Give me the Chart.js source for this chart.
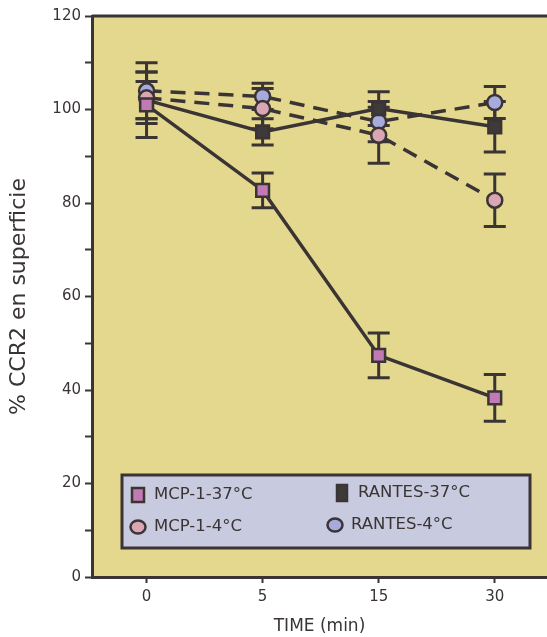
<!DOCTYPE html>
<html>
<head>
<meta charset="utf-8">
<script src="https://cdn.jsdelivr.net/npm/chart.js@4.4.1/dist/chart.umd.min.js"></script>
<style>
  html, body { margin: 0; padding: 0; background: #ffffff; overflow: hidden; }
  #wrap { width: 547px; height: 637px; }
</style>
</head>
<body>
<div id="wrap"><canvas id="ccr2"></canvas></div>
<script>
  // time points (min) and % surface CCR2 with their error bars
  const timeLabels = ['0', '5', '15', '30'];

  const mcp37 = [101, 82.7, 47.4, 38.3];
  const mcp37Err = [7, 3.7, 4.8, 5];
  const mcp4 = [102.5, 100.2, 94.5, 80.6];
  const mcp4Err = [5.5, 4.3, 6, 5.6];
  const rantes37 = [102, 95.2, 100.2, 96.3];
  const rantes37Err = [4, 2.8, 3.6, 5.4];
  const rantes4 = [104, 102.8, 97.4, 101.5];
  const rantes4Err = [6, 2.8, 4.3, 3.4];

  const ink = '#3a3434';
  const plotBg = '#e4d88e';
  const legendBg = '#c8cbdf';
  const tickFont = { family: '"DejaVu Sans", Verdana, sans-serif', size: 15 };

  function toPoints(values) {
    return values.map(function(v, i) { return { x: i, y: v }; });
  }

  function series(label, values, errors, fill, shape, dashed) {
    return {
      label: label,
      data: toPoints(values),
      errors: errors,
      borderColor: ink,
      borderWidth: 3.5,
      borderDash: dashed ? [15, 9] : [],
      pointStyle: shape,
      pointRadius: shape === 'rect' ? 9 : 7.5,
      pointBackgroundColor: fill,
      pointBorderColor: ink,
      pointBorderWidth: 2.5,
      tension: 0,
      fill: false
    };
  }

  // yellow plot panel with a top frame line
  const panel = {
    id: 'panel',
    beforeDraw(chart) {
      let a = chart.chartArea;
      let ctx = chart.ctx;
      ctx.save();
      ctx.fillStyle = plotBg;
      ctx.fillRect(a.left, a.top, a.right - a.left, a.bottom - a.top);
      ctx.strokeStyle = ink;
      ctx.lineWidth = 3;
      ctx.beginPath();
      ctx.moveTo(a.left, a.top);
      ctx.lineTo(a.right, a.top);
      ctx.stroke();
      ctx.restore();
    }
  };

  // vertical error bars with caps, drawn under the lines and markers
  const errorBars = {
    id: 'errorBars',
    beforeDatasetsDraw(chart) {
      let ctx = chart.ctx;
      let xs = chart.scales.x;
      let ys = chart.scales.y;
      ctx.save();
      ctx.strokeStyle = ink;
      ctx.lineWidth = 3;
      chart.data.datasets.forEach(function(ds) {
        ds.data.forEach(function(p, i) {
          let e = ds.errors[i];
          let px = xs.getPixelForValue(p.x);
          let top = ys.getPixelForValue(p.y + e);
          let bot = ys.getPixelForValue(p.y - e);
          ctx.beginPath();
          ctx.moveTo(px, top);
          ctx.lineTo(px, bot);
          ctx.moveTo(px - 11, top);
          ctx.lineTo(px + 11, top);
          ctx.moveTo(px - 11, bot);
          ctx.lineTo(px + 11, bot);
          ctx.stroke();
        });
      });
      ctx.restore();
    }
  };

  // boxed legend sitting inside the plot, two columns
  const boxLegend = {
    id: 'boxLegend',
    afterDraw(chart) {
      let a = chart.chartArea;
      let ctx = chart.ctx;
      let left = a.left + 30;
      let right = a.right - 17;
      let top = a.bottom - 102;
      let bottom = a.bottom - 29;
      ctx.save();
      ctx.fillStyle = legendBg;
      ctx.fillRect(left, top, right - left, bottom - top);
      ctx.strokeStyle = ink;
      ctx.lineWidth = 3;
      ctx.strokeRect(left, top, right - left, bottom - top);

      // order: MCP-1-37, RANTES-37 / MCP-1-4, RANTES-4
      let slots = [
        { ds: 0, x: left + 16, y: top + 20 },
        { ds: 2, x: left + 220, y: top + 18 },
        { ds: 1, x: left + 16, y: top + 52 },
        { ds: 3, x: left + 213, y: top + 50 }
      ];
      ctx.font = '16.5px "DejaVu Sans", sans-serif';
      ctx.textBaseline = 'middle';
      slots.forEach(function(s) {
        let ds = chart.data.datasets[s.ds];
        ctx.fillStyle = ds.pointBackgroundColor;
        ctx.strokeStyle = ink;
        ctx.lineWidth = 2.5;
        if (ds.pointStyle === 'rect') {
          let w = s.ds === 2 ? 10 : 12;
          let h = s.ds === 2 ? 16 : 14;
          ctx.fillRect(s.x - w / 2, s.y - h / 2, w, h);
          ctx.strokeRect(s.x - w / 2, s.y - h / 2, w, h);
        } else {
          ctx.beginPath();
          ctx.ellipse(s.x, s.y, 7.5, 6.5, 0, 0, Math.PI * 2);
          ctx.fill();
          ctx.stroke();
        }
        ctx.fillStyle = ink;
        ctx.fillText(ds.label, s.x + 16, s.y);
      });
      ctx.restore();
    }
  };

  let ctx = document.getElementById('ccr2').getContext('2d');
  let chart = new Chart(ctx, {
    type: 'line',
    data: {
      datasets: [
        series('MCP-1-37°C', mcp37, mcp37Err, '#c27ab4', 'rect', false),
        series('MCP-1-4°C', mcp4, mcp4Err, '#dba6b4', 'circle', true),
        series('RANTES-37°C', rantes37, rantes37Err, '#3e3a3a', 'rect', false),
        series('RANTES-4°C', rantes4, rantes4Err, '#a7aadc', 'circle', true)
      ]
    },
    options: {
      responsive: true,
      maintainAspectRatio: false,
      animation: false,
      layout: {
        autoPadding: false,
        padding: { top: 16, right: 0, bottom: 0, left: 0 }
      },
      plugins: {
        legend: { display: false },
        tooltip: { enabled: false }
      },
      scales: {
        x: {
          type: 'linear',
          min: -0.47,
          max: 3.45,
          afterBuildTicks: function(s) {
            s.ticks = timeLabels.map(function(_, i) { return { value: i }; });
          },
          afterFit: function(s) {
            s.height = 60;
            s.paddingLeft = 0;
            s.paddingRight = 0;
          },
          border: { color: ink, width: 3 },
          grid: { drawOnChartArea: false, tickLength: 6, tickWidth: 2, tickColor: ink },
          ticks: {
            color: ink,
            font: tickFont,
            padding: 5,
            callback: function(v) { return timeLabels[v]; }
          },
          title: {
            display: true,
            text: 'TIME (min)',
            color: ink,
            font: { family: '"DejaVu Sans", sans-serif', size: 17 },
            padding: { top: 0, bottom: 0 }
          }
        },
        y: {
          min: 0,
          max: 120,
          afterFit: function(s) {
            s.width = 92;
            s.paddingTop = 0;
            s.paddingBottom = 0;
          },
          border: { color: ink, width: 3 },
          grid: { drawOnChartArea: false, tickLength: 7, tickWidth: 2, tickColor: ink },
          ticks: {
            stepSize: 10,
            color: ink,
            font: tickFont,
            padding: 4,
            callback: function(v) { return v % 20 === 0 ? v : ''; }
          },
          title: {
            display: true,
            text: '% CCR2 en superficie',
            color: ink,
            font: { family: '"DejaVu Sans", sans-serif', size: 22 },
            padding: { top: 6, bottom: 0 }
          }
        }
      }
    },
    plugins: [panel, errorBars, boxLegend]
  });
</script>
</body>
</html>
